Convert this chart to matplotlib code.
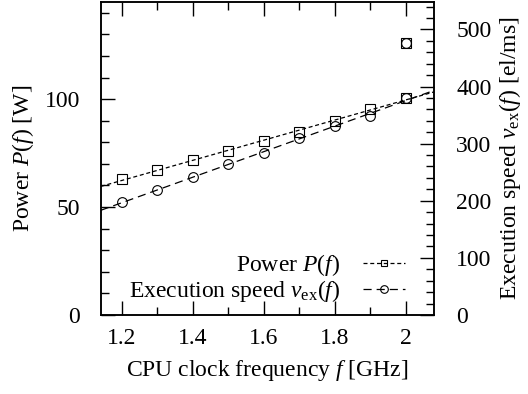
import numpy as np
import matplotlib
matplotlib.use("Agg")
import matplotlib.pyplot as plt
from matplotlib.lines import Line2D
from matplotlib.ticker import MultipleLocator, FuncFormatter

plt.rcParams['font.family'] = ['Liberation Serif', 'DejaVu Serif']
plt.rcParams['mathtext.fontset'] = 'custom'
plt.rcParams['mathtext.rm'] = 'Liberation Serif'
plt.rcParams['mathtext.it'] = 'Liberation Serif:italic'
plt.rcParams['font.size'] = 17

# measurements
freq = [1.2, 1.3, 1.4, 1.5, 1.6, 1.7, 1.8, 1.9, 2.0]
power = [63.1, 67.0, 71.8, 75.9, 80.4, 84.9, 90.0, 95.2, 100.6]
speed = [197, 219, 241, 265, 284, 310, 330, 348, 380]

# turbo point, left out of the fits
outlier_freq = 2.0
power_outlier = 125.9
speed_outlier = 477

power_ls = (0, (3.2, 2.2))
speed_ls = (0, (6.5, 4))

fig = plt.figure(figsize=(5.28, 3.94), dpi=100)
ax = fig.add_axes([0.191, 0.2005, 0.631, 0.7945])
ax2 = ax.twinx()

xmin, xmax = 1.141, 2.079
xs = np.array([xmin, xmax])

p_fit = np.polyfit(freq, power, 1)
s_fit = np.polyfit(freq, speed, 1)

ax.plot(xs, np.polyval(p_fit, xs), color='black', lw=0.9, ls=power_ls)
ax.plot(freq + [outlier_freq], power + [power_outlier], ls='none', marker='s',
        ms=6.5, mfc='none', mec='black', mew=0.8)

ax2.plot(xs, np.polyval(s_fit, xs), color='black', lw=0.9, ls=speed_ls)
ax2.plot(freq + [outlier_freq], speed + [speed_outlier], ls='none', marker='o',
         ms=7, mfc='none', mec='black', mew=0.8)

ax.set_xlim(xmin, xmax)
ax.set_ylim(0, 145)
ax2.set_ylim(0, 548)

ax.xaxis.set_major_locator(MultipleLocator(0.2))
ax.xaxis.set_minor_locator(MultipleLocator(0.1))
ax.xaxis.set_major_formatter(FuncFormatter(lambda v, p: '%g' % round(v, 2)))
ax.yaxis.set_major_locator(MultipleLocator(50))
ax.yaxis.set_minor_locator(MultipleLocator(10))
ax2.yaxis.set_major_locator(MultipleLocator(100))
ax2.yaxis.set_minor_locator(MultipleLocator(20))

ax.tick_params(axis='x', which='both', direction='in', top=True, bottom=True, width=1)
ax.tick_params(axis='x', which='major', length=10, pad=9)
ax.tick_params(axis='x', which='minor', length=5.5)
ax.tick_params(axis='y', which='both', direction='in', left=True, right=False, width=1)
ax.tick_params(axis='y', which='major', length=10, pad=15)
ax.tick_params(axis='y', which='minor', length=5.5)
ax2.tick_params(axis='y', which='both', direction='in', width=1)
ax2.tick_params(axis='y', which='major', length=10, pad=16)
ax2.tick_params(axis='y', which='minor', length=5.5)

for a in (ax, ax2):
    for s in a.spines.values():
        s.set_linewidth(1.1)

ax.set_xlabel('CPU clock frequency $f$ [GHz]', labelpad=7)
ax.set_ylabel('Power $P(f)$ [W]', labelpad=6)
ax2.set_ylabel(r'Execution speed $v_\mathrm{ex}(f)$ [el/ms]', labelpad=4)

handles = [
    Line2D([], [], color='black', lw=0.9, ls=power_ls, marker='s', ms=5,
           mfc='none', mec='black', mew=0.8),
    Line2D([], [], color='black', lw=0.9, ls=speed_ls, marker='o', ms=5.5,
           mfc='none', mec='black', mew=0.8),
]
ax2.legend(handles, ['Power $P(f)$', r'Execution speed $v_\mathrm{ex}(f)$'],
           loc='lower right', bbox_to_anchor=(0.913, 0.035), frameon=False,
           markerfirst=False, handlelength=1.8, handletextpad=0.95,
           labelspacing=0.0, borderaxespad=0, borderpad=0)

fig.savefig('out.png', dpi=100)
